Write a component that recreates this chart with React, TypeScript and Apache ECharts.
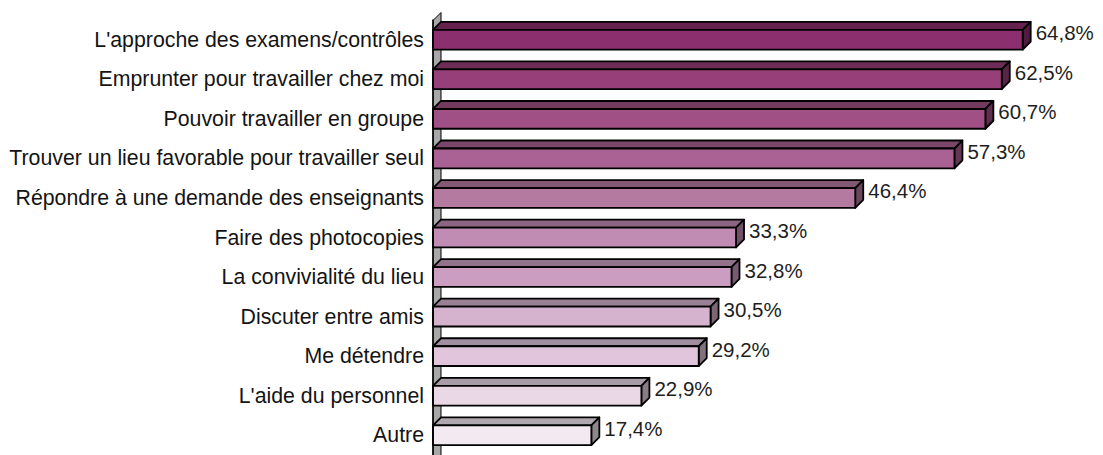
import React, { useEffect, useRef } from "react";
import * as echarts from "echarts";

const categories: string[] = [
  "L'approche des examens/contrôles",
  "Emprunter pour travailler chez moi",
  "Pouvoir travailler en groupe",
  "Trouver un lieu favorable pour travailler seul",
  "Répondre à une demande des enseignants",
  "Faire des photocopies",
  "La convivialité du lieu",
  "Discuter entre amis",
  "Me détendre",
  "L'aide du personnel",
  "Autre",
];

const values: number[] = [64.8, 62.5, 60.7, 57.3, 46.4, 33.3, 32.8, 30.5, 29.2, 22.9, 17.4];

const frontColors: string[] = [
  "#8C2F6E",
  "#973F78",
  "#A05084",
  "#AA6193",
  "#B57A9F",
  "#C18CB4",
  "#CB9EC1",
  "#D5B2CE",
  "#E0C5DC",
  "#EAD8E6",
  "#F3EAF1",
];

function shade(hex: string, f: number): string {
  const n = parseInt(hex.slice(1), 16);
  const r = Math.round(((n >> 16) & 255) * f);
  const g = Math.round(((n >> 8) & 255) * f);
  const b = Math.round((n & 255) * f);
  return "rgb(" + r + "," + g + "," + b + ")";
}

const fmt = (v: number) => v.toFixed(1).replace(".", ",") + "%";

export default function App() {
  const ref = useRef<HTMLDivElement>(null);
  useEffect(() => {
    if (!ref.current) return;
    const chart = echarts.init(ref.current, null, { renderer: "svg" });
    const D = 8;
    chart.setOption({
      animation: false,
      backgroundColor: "#ffffff",
      grid: { left: 433, top: 20, width: 637, height: 443, containLabel: false },
      xAxis: {
        type: "value",
        min: 0,
        max: 70,
        show: false,
      },
      yAxis: {
        type: "category",
        data: categories,
        inverse: true,
        axisLine: { show: true, lineStyle: { color: "#000", width: 1.5 } },
        axisTick: { show: false },
        axisLabel: {
          margin: 9,
          color: "#141414",
          fontFamily: "Liberation Sans, Arial, sans-serif",
          fontSize: 21.3,
        },
        z: 5,
      },
      graphic: [
        {
          type: "polygon",
          z: -10,
          silent: true,
          shape: { points: [[433, 20.5], [441, 12.5], [441, 470], [433, 478]] },
          style: { fill: "#A8A8A8", stroke: "#000", lineWidth: 1 },
        },
      ],
      series: [
        {
          type: "custom",
          z: 3,
          data: values.map((v, i) => [v, i]),
          encode: { x: 0, y: 1 },
          renderItem: (params: any, api: any) => {
            const v = api.value(0);
            const idx = api.value(1);
            const p0 = api.coord([0, idx]);
            const p1 = api.coord([v, idx]);
            const band = api.size([0, 1])[1];
            const h = band * 0.5;
            const x0 = p0[0];
            const x1 = p1[0];
            const yc = p0[1];
            const t = yc - h / 2;
            const b = yc + h / 2;
            const fc = frontColors[idx];
            const stroke = { stroke: "#000", lineWidth: 1.8, lineJoin: "round" };
            return {
              type: "group",
              children: [
                {
                  type: "polygon",
                  shape: { points: [[x0, t], [x0 + D, t - D], [x1 + D, t - D], [x1, t]] },
                  style: { fill: shade(fc, 0.72), ...stroke },
                },
                {
                  type: "polygon",
                  shape: { points: [[x1, t], [x1 + D, t - D], [x1 + D, b - D], [x1, b]] },
                  style: { fill: shade(fc, 0.58), ...stroke },
                },
                {
                  type: "rect",
                  shape: { x: x0, y: t, width: x1 - x0, height: h },
                  style: { fill: fc, ...stroke },
                },
                {
                  type: "text",
                  x: x1 + D + 5,
                  y: yc - 7,
                  style: {
                    text: fmt(v),
                    fill: "#1e1e1e",
                    font: "20.5px 'Liberation Sans', Arial, sans-serif",
                    verticalAlign: "middle",
                    align: "left",
                  },
                },
              ],
            };
          },
        },
      ],
    });
    return () => chart.dispose();
  }, []);
  return (
    <div
      ref={ref}
      style={{ position: "fixed", left: 0, top: 0, width: 1103, height: 455 }}
    />
  );
}
